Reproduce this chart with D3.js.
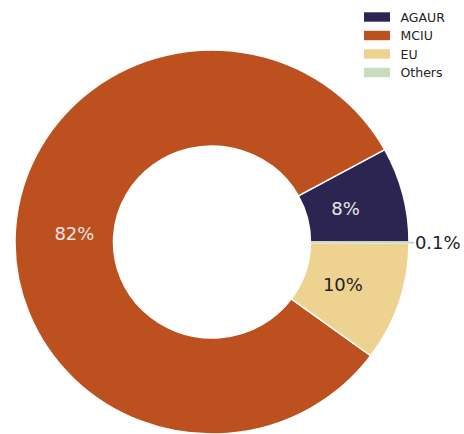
<!DOCTYPE html>
<html>
<head>
<meta charset="utf-8">
<script src="https://cdn.jsdelivr.net/npm/d3@7"></script>
<style>
  html, body { margin: 0; padding: 0; background: #fff; }
  svg { display: block; font-family: "DejaVu Sans", sans-serif; }
</style>
</head>
<body>
<svg id="chart" width="464" height="434"></svg>
<script>
// Funding sources and their shares (%)
const categories = ["AGAUR", "MCIU", "EU", "Others"];
const shares = [8, 82, 10, 0.1];
const colors = ["#2c2551", "#bd501f", "#eed290", "#c9dcbd"];
const labelColors = ["#ece6e6", "#ece6e6", "#222222", "#222222"];

const svg = d3.select("#chart");
const cx = 212, cy = 242;
const R = 197;            // outer radius
const yScale = 192 / 197; // slight vertical squash of the ring
const inner = R * 0.5;

const data = categories.map((c, i) => ({ name: c, value: shares[i], i }));

// Counter-clockwise from 3 o'clock
const pie = d3.pie()
  .value(d => d.value)
  .sort(null)
  .startAngle(Math.PI / 2)
  .endAngle(Math.PI / 2 - 2 * Math.PI);

const arcs = pie(data);
const arc = d3.arc().innerRadius(inner).outerRadius(R);
const tinyArc = d3.arc().innerRadius(inner).outerRadius(R + 5);

const ring = svg.append("g")
  .attr("transform", `translate(${cx},${cy}) scale(1,${yScale})`);

ring.selectAll("path.wedge")
  .data(arcs)
  .join("path")
  .attr("class", "wedge")
  .attr("d", d => (d.data.value < 1 ? tinyArc(d) : arc(d)))
  .attr("fill", d => colors[d.data.i])
  .attr("stroke", d => (d.data.value < 1 ? colors[d.data.i] : "#ffffff"))
  .attr("stroke-width", d => (d.data.value < 1 ? 0.8 : 1.5))
  .attr("stroke-linejoin", "round");

// Percentage labels
const fmt = v => (v >= 1 ? d3.format(".0f")(v) : d3.format(".1f")(v)) + "%";
const labels = svg.append("g");
arcs.forEach(d => {
  const mid = (d.startAngle + d.endAngle) / 2; // d3 angle (clockwise from 12 o'clock)
  const small = d.data.value < 1;
  const rr = small ? R * 1.03 : R * 0.7;
  const x = cx + rr * Math.sin(mid);
  const y = cy - rr * Math.cos(mid) * yScale;
  labels.append("text")
    .attr("x", x)
    .attr("y", y)
    .attr("text-anchor", small ? "start" : "middle")
    .attr("dominant-baseline", "central")
    .attr("font-size", 18)
    .attr("fill", labelColors[d.data.i])
    .text(fmt(d.data.value));
});

// Legend
const legend = svg.append("g").attr("transform", "translate(364,17)");
const rowH = 18.5;
const item = legend.selectAll("g.item")
  .data(data)
  .join("g")
  .attr("class", "item")
  .attr("transform", (d, i) => `translate(0,${i * rowH})`);
item.append("rect")
  .attr("x", 0).attr("y", -4.7)
  .attr("width", 26).attr("height", 9.4)
  .attr("fill", d => colors[d.i]);
item.append("text")
  .attr("x", 36.5).attr("y", 0)
  .attr("dominant-baseline", "central")
  .attr("font-size", 12.5)
  .attr("fill", "#222")
  .text(d => d.name);
</script>
</body>
</html>
